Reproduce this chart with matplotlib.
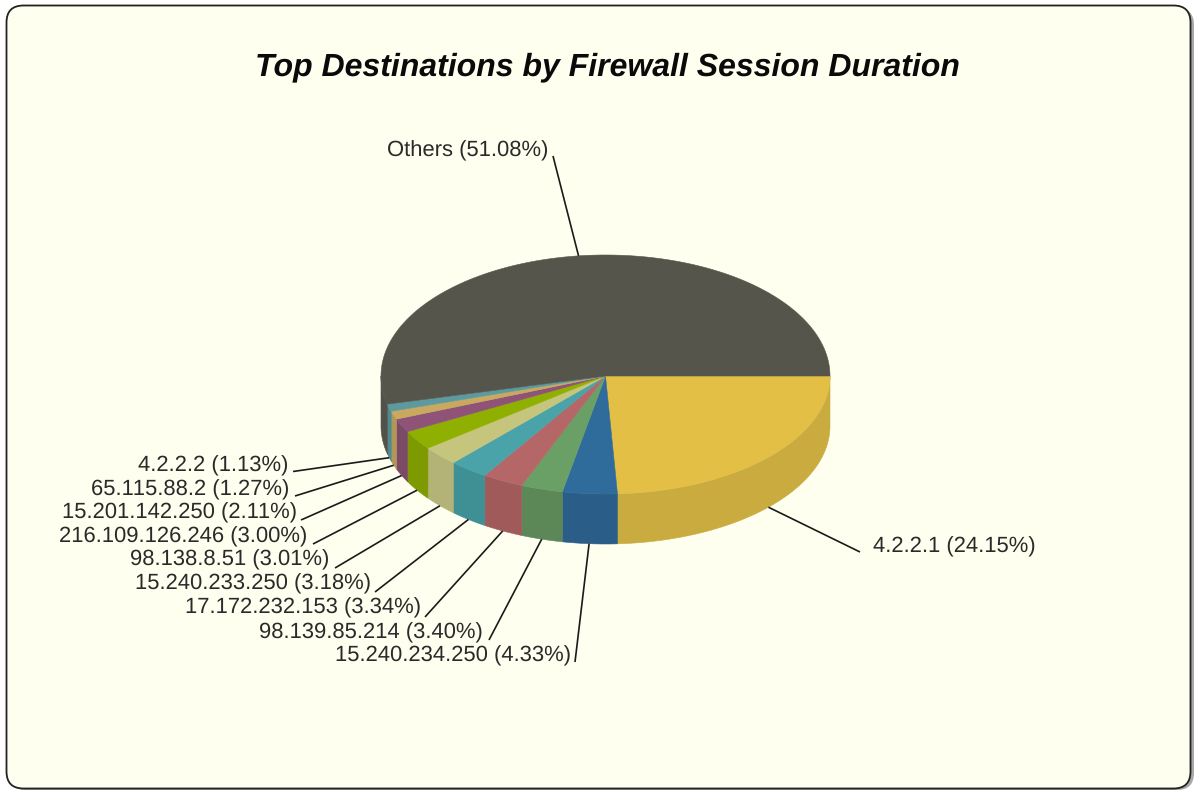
import numpy as np
import matplotlib
matplotlib.use("Agg")
import matplotlib.pyplot as plt
from matplotlib.patches import FancyBboxPatch, Polygon

plt.rcParams["text.hinting"] = "no_hinting"
plt.rcParams["text.hinting_factor"] = 1

hosts = ["4.2.2.1", "15.240.234.250", "98.139.85.214", "17.172.232.153",
         "15.240.233.250", "98.138.8.51", "216.109.126.246", "15.201.142.250",
         "65.115.88.2", "4.2.2.2", "Others"]
shares = [24.15, 4.33, 3.40, 3.34, 3.18, 3.01, 3.00, 2.11, 1.27, 1.13, 51.08]
top_colors = ["#e3bf45", "#2f6c9c", "#6a9f66", "#b56767", "#4aa3a8", "#c5c57e",
              "#8fb000", "#8e5377", "#c9a860", "#5c9a9e", "#55554c"]
side_colors = ["#c9ab3f", "#2a5d88", "#5c8858", "#a05a5a", "#3f9094", "#b3b378",
               "#7d9a00", "#7b4a66", "#b39655", "#4f8a8e", "#525249"]

# Label anchors, leader starts (pixel layout, same order as hosts)
label_xy = [(873, 545), (571, 654), (483, 631), (421, 606), (371, 582), (329, 558),
            (307, 535), (297, 511), (289, 488), (288, 464), (548, 149)]
leader_xy = [(860, 552), (575, 662), (489, 640), (425, 617), (375, 592), (335, 568),
             (313, 544), (301, 520), (295, 496), (293, 471.5), (553, 156)]

CX, CY = 605.5, 376.0
RX, RY_BACK, RY_FRONT = 224.5, 121.0, 118.0
DEPTH = 50.0
BEND_END = 176.1


def project(theta):
    """Tilted-disc angle for a data angle: slices on the near-left side are squeezed."""
    theta = np.asarray(theta, dtype=float)
    knee = 90 + (BEND_END - 90) * 0.885
    low = np.where(theta <= 90, theta, 90 + (theta - 90) * 0.885)
    high = knee + (theta - BEND_END) * (360 - knee) / (360 - BEND_END)
    return np.where(theta <= BEND_END, low, high)


def rim(t, drop=0.0):
    r = np.radians(t)
    s = np.sin(r)
    return CX + RX * np.cos(r), CY + np.where(s > 0, RY_FRONT, RY_BACK) * s + drop


fig = plt.figure(figsize=(11.95, 7.90), dpi=100, facecolor="white")
ax = fig.add_axes([0, 0, 1, 1])
ax.set_xlim(0, 1195)
ax.set_ylim(790, 0)
ax.axis("off")

# Raised panel behind the chart
ax.add_patch(FancyBboxPatch((9, 8), 1185, 782, boxstyle="round,pad=0,rounding_size=17",
                            fc="#a8a8a8", ec="none", zorder=0))
ax.add_patch(FancyBboxPatch((6.5, 5.5), 1184, 783, boxstyle="round,pad=0,rounding_size=17",
                            fc="#fffff0", ec="#222222", lw=1.3, zorder=1))

edges = np.concatenate([[0], np.cumsum(shares)]) * 3.6
edges[-1] = 360.0
angles = project(edges)

# Visible wall of the disc, one strip per slice
for a0, a1, col in zip(angles[:-1], angles[1:], side_colors):
    if a0 >= 180:
        continue
    t = np.linspace(a0, min(a1, 180), 60)
    x, y = rim(t)
    xb, yb = rim(t, DEPTH)
    pts = np.column_stack([np.r_[x, xb[::-1]], np.r_[y, yb[::-1]]])
    ax.add_patch(Polygon(pts, closed=True, fc=col, ec=col, lw=0.4, zorder=2))

# Top surface
for a0, a1, col in zip(angles[:-1], angles[1:], top_colors):
    t = np.linspace(a0, a1, 240)
    x, y = rim(t)
    pts = np.column_stack([np.r_[CX, x], np.r_[CY, y]])
    ax.add_patch(Polygon(pts, closed=True, fc=col, ec=col, lw=0.4, zorder=3))

# Labels and leaders
mids = project((edges[:-1] + edges[1:]) / 2)
for host, share, (lx, ly), (sx, sy), m in zip(hosts, shares, label_xy, leader_xy, mids):
    on_back = np.sin(np.radians(m)) < 0
    tip_x, tip_y = rim(m, 0.0 if on_back else DEPTH)
    ax.plot([sx, float(tip_x)], [sy, float(tip_y)], color="#1a1a1a", lw=1.2,
            solid_capstyle="butt", zorder=4)
    ax.text(lx, ly + 2, f"{host} ({share:.2f}%)", family="Liberation Sans", fontsize=15.5,
            color="#2a2a2a", ha="left" if lx > CX + 100 else "right", va="center", zorder=5)

ax.text(607.5, 67, "Top Destinations by Firewall Session Duration", family="Liberation Sans",
        fontsize=23.3, fontweight="bold", fontstyle="italic", color="#0a0a0a",
        ha="center", va="center", zorder=5)

fig.savefig("out.png", dpi=100, facecolor="white")
